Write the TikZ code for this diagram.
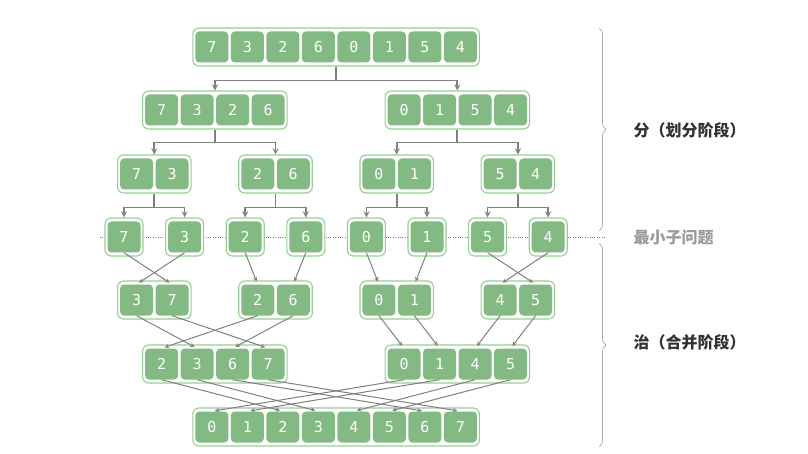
\documentclass[tikz,border=0pt]{standalone}
\usepackage{fontspec}
\usepackage{tikz}
\usetikzlibrary{decorations.pathreplacing}
\setmonofont{DejaVu Sans Mono}
\newfontfamily\cjk{Noto Sans CJK SC}

\definecolor{cellgreen}{RGB}{131,186,131}
\definecolor{framegreen}{RGB}{150,206,150}
\definecolor{linegray}{RGB}{128,128,128}
\definecolor{bracegray}{RGB}{170,170,170}
\definecolor{textdark}{RGB}{50,50,50}

\tikzset{
  arrframe/.style={draw=framegreen,line width=1.1pt,fill=white,rounded corners=6pt,
    minimum height=38pt,inner sep=0pt},
  numcell/.style={fill=cellgreen,rounded corners=4pt,minimum width=33pt,minimum height=31pt,
    inner sep=0pt,text=white,font=\ttfamily\fontsize{15}{15}\selectfont},
  split/.style={->,draw=linegray,line width=1.7pt},
  merge/.style={->,draw=linegray,line width=1pt,shorten >=3pt},
  stage/.style={anchor=west,text=textdark,font=\cjk\bfseries\fontsize{16}{16}\selectfont},
}

% name, count, x, y, values
\newcommand{\cellrow}[5]{%
  \node[arrframe,minimum width={#2*35.5pt+2.5pt}] (#1) at (#3,#4) {};
  \foreach \v [count=\i] in {#5}
    \node[numcell] (#1-\i) at ({#3+(\i-(#2+1)/2)*35.5},#4) {\v};
}

\begin{document}
\begin{tikzpicture}[x=1pt,y=-1pt,>=stealth]
  \useasboundingbox (0,0) rectangle (808,454);
  \coordinate (dotL) at (100,237);
  \coordinate (dotR) at (605,237);
  \draw[dotted,linegray] (dotL) -- (dotR);

  \cellrow{a}{8}{336.1}{47}{7,3,2,6,0,1,5,4}
  \cellrow{b1}{4}{214.9}{110}{7,3,2,6}
  \cellrow{b2}{4}{457.3}{110}{0,1,5,4}
  \cellrow{c1}{2}{154.3}{174}{7,3}
  \cellrow{c2}{2}{275.5}{174}{2,6}
  \cellrow{c3}{2}{396.7}{174}{0,1}
  \cellrow{c4}{2}{517.9}{174}{5,4}
  \cellrow{d1}{1}{124}{237}{7}
  \cellrow{d2}{1}{184.6}{237}{3}
  \cellrow{d3}{1}{245.2}{237}{2}
  \cellrow{d4}{1}{305.8}{237}{6}
  \cellrow{d5}{1}{366.4}{237}{0}
  \cellrow{d6}{1}{427}{237}{1}
  \cellrow{d7}{1}{487.6}{237}{5}
  \cellrow{d8}{1}{548.2}{237}{4}
  \cellrow{e1}{2}{154.3}{300}{3,7}
  \cellrow{e2}{2}{275.5}{300}{2,6}
  \cellrow{e3}{2}{396.7}{300}{0,1}
  \cellrow{e4}{2}{517.9}{300}{4,5}
  \cellrow{f1}{4}{214.9}{364}{2,3,6,7}
  \cellrow{f2}{4}{457.3}{364}{0,1,4,5}
  \cellrow{g}{8}{336.1}{427}{0,1,2,3,4,5,6,7}

  \draw[split] (a.south) -- ++(0,14) -| (b1.north);
  \draw[split] (a.south) -- ++(0,14) -| (b2.north);
  \draw[split] (b1.south) -- ++(0,13) -| (c1.north);
  \draw[split] (b1.south) -- ++(0,13) -| (c2.north);
  \draw[split] (b2.south) -- ++(0,13) -| (c3.north);
  \draw[split] (b2.south) -- ++(0,13) -| (c4.north);
  \draw[split] (c1.south) -- ++(0,14) -| (d1.north);
  \draw[split] (c1.south) -- ++(0,14) -| (d2.north);
  \draw[split] (c2.south) -- ++(0,14) -| (d3.north);
  \draw[split] (c2.south) -- ++(0,14) -| (d4.north);
  \draw[split] (c3.south) -- ++(0,14) -| (d5.north);
  \draw[split] (c3.south) -- ++(0,14) -| (d6.north);
  \draw[split] (c4.south) -- ++(0,14) -| (d7.north);
  \draw[split] (c4.south) -- ++(0,14) -| (d8.north);

  \draw[merge] (d1-1.south) -- (e1-2.north);
  \draw[merge] (d2-1.south) -- (e1-1.north);
  \draw[merge] (d3-1.south) -- (e2-1.north);
  \draw[merge] (d4-1.south) -- (e2-2.north);
  \draw[merge] (d5-1.south) -- (e3-1.north);
  \draw[merge] (d6-1.south) -- (e3-2.north);
  \draw[merge] (d7-1.south) -- (e4-2.north);
  \draw[merge] (d8-1.south) -- (e4-1.north);

  \draw[merge] (e1-1.south) -- (f1-2.north);
  \draw[merge] (e1-2.south) -- (f1-4.north);
  \draw[merge] (e2-1.south) -- (f1-1.north);
  \draw[merge] (e2-2.south) -- (f1-3.north);
  \draw[merge] (e3-1.south) -- (f2-1.north);
  \draw[merge] (e3-2.south) -- (f2-2.north);
  \draw[merge] (e4-1.south) -- (f2-3.north);
  \draw[merge] (e4-2.south) -- (f2-4.north);

  \draw[merge] (f1-1.south) -- (g-3.north);
  \draw[merge] (f1-2.south) -- (g-4.north);
  \draw[merge] (f1-3.south) -- (g-7.north);
  \draw[merge] (f1-4.south) -- (g-8.north);
  \draw[merge] (f2-1.south) -- (g-1.north);
  \draw[merge] (f2-2.south) -- (g-2.north);
  \draw[merge] (f2-3.south) -- (g-5.north);
  \draw[merge] (f2-4.south) -- (g-6.north);

  \draw[bracegray,line width=0.7pt,decorate,decoration={brace,amplitude=7pt}]
    (599,28) -- (599,231);
  \draw[bracegray,line width=0.7pt,decorate,decoration={brace,amplitude=7pt}]
    (599,243) -- (599,447);
  \node[stage] (divide) at (630,130) {分（划分阶段）};
  \node[stage,text=linegray!80] (base) at (630,237) {最小子问题};
  \node[stage] (conquer) at (630,342) {治（合并阶段）};
\end{tikzpicture}
\end{document}
